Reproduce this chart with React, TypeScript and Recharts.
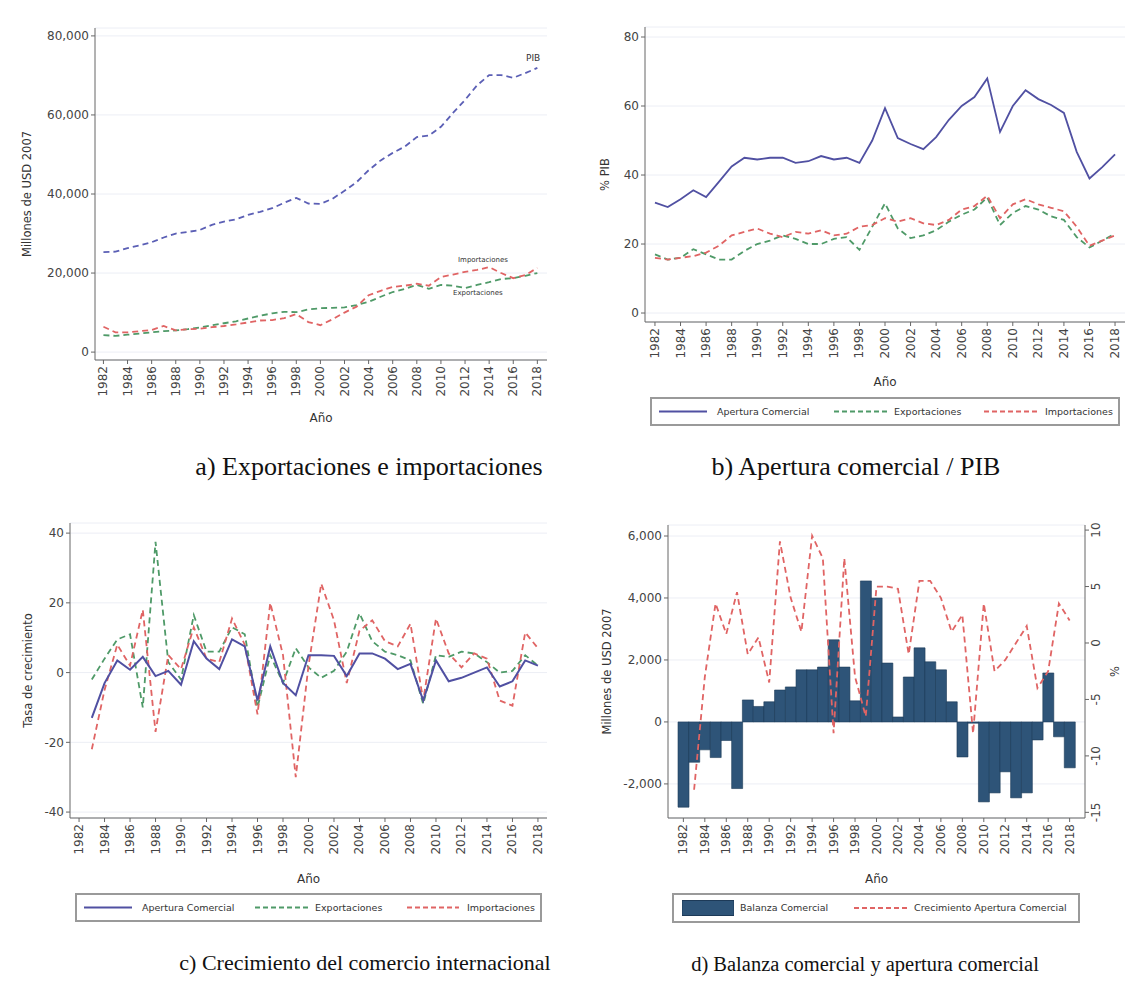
import React from 'react';
import { LineChart, Line, XAxis, YAxis, CartesianGrid, ComposedChart, Bar } from 'recharts';

const years = [1982, 1983, 1984, 1985, 1986, 1987, 1988, 1989, 1990, 1991, 1992, 1993, 1994, 1995, 1996, 1997, 1998, 1999, 2000, 2001, 2002, 2003, 2004, 2005, 2006, 2007, 2008, 2009, 2010, 2011, 2012, 2013, 2014, 2015, 2016, 2017, 2018];
const tickYears = [1982, 1984, 1986, 1988, 1990, 1992, 1994, 1996, 1998, 2000, 2002, 2004, 2006, 2008, 2010, 2012, 2014, 2016, 2018];

// Panel a: millions USD 2007
const pib = [25300, 25400, 26300, 27000, 27800, 29000, 30000, 30400, 30900, 32200, 33000, 33600, 34700, 35500, 36400, 37800, 39000, 37600, 37500, 38800, 40800, 43000, 46000, 48500, 50400, 52000, 54400, 54800, 57000, 60500, 63800, 67500, 70100, 70100, 69400, 70600, 71900];
const exportaciones = [4300, 4100, 4400, 4700, 5000, 5300, 5500, 5800, 6200, 6800, 7300, 7800, 8500, 9200, 9800, 10200, 10100, 10800, 11100, 11200, 11300, 11900, 12700, 14000, 15200, 16000, 17000, 16000, 17000, 16800, 16200, 17000, 17700, 18500, 18700, 19300, 20000];
const importaciones = [6400, 5000, 5000, 5300, 5600, 6600, 5500, 5800, 5900, 6300, 6600, 7000, 7500, 8000, 8100, 8600, 9600, 7600, 6800, 8300, 10000, 11500, 14400, 15500, 16500, 16800, 17300, 16800, 19000, 19600, 20300, 20800, 21500, 20000, 18700, 19500, 21300];

// Panel b: % of GDP
const aperturaPct = [32, 30.7, 33, 35.6, 33.6, 38, 42.5, 45, 44.5, 45, 45, 43.5, 44, 45.5, 44.5, 45, 43.5, 50, 59.4, 50.7, 49, 47.5, 51, 56, 60, 62.6, 68, 52.5, 60, 64.6, 62, 60.3, 58, 46.7, 39, 42.3, 46];
const exportPct = [17, 15.5, 16, 18.5, 17, 15.5, 15.5, 18, 20, 21, 22.5, 21.5, 20, 20, 21.5, 22, 18.3, 25, 31.8, 24.5, 21.7, 22.5, 24, 26.5, 28.5, 30, 33.5, 25.5, 29, 31, 30, 28, 27, 22, 19, 21, 23];
const importPct = [16, 15.5, 16, 16.5, 17.5, 19.5, 22.5, 23.5, 24.5, 23, 22, 23.5, 23, 24, 22.5, 23, 25, 25.5, 27.5, 26.5, 27.5, 26, 25.5, 27, 30, 31, 34, 27.5, 31.5, 33, 31.5, 30.5, 29.5, 25, 19.5, 21, 22.5];

// Panel c: growth rates (%)
const aperturaGrowth = [null, -13, -3, 3.5, 0.8, 4.5, -1, 0.5, -3.5, 9, 4, 1, 9.5, 7.5, -8, 7.5, -3, -6.5, 5, 5, 4.8, -1, 5.5, 5.5, 4, 1, 2.5, -8, 3.5, -2.5, -1.5, 0, 1.5, -4, -2.5, 3.5, 2];
const exportGrowth = [null, -2, 4, 9.5, 11, -10, 37.5, 3, -2, 16.5, 6, 6, 13, 11, -10, 5, -3, 7, 1.5, -1.5, 0.5, 6, 17, 9, 6, 5, 3.5, -9, 5, 4.5, 6, 5.5, 3, 0, 0.5, 5, 2];
const importGrowth = [null, -22, -5, 8, 2, 18, -17, 5, 1, 13, 4, 3, 15.5, 8, -12, 20, 5, -30, 2, 25.5, 15, -3, 12, 15, 9, 7.5, 14, -8, 15.5, 5.5, 1.5, 5.5, 4, -8, -9.5, 11.5, 7];

// Panel d: trade balance (millions USD 2007)
const balanza = [-2750, -1300, -900, -1150, -600, -2150, 710, 500, 650, 1030, 1130, 1680, 1680, 1770, 2650, 1770, 680, 4550, 4000, 1900, 160, 1450, 2390, 1940, 1680, 650, -1130, -40, -2580, -2290, -1610, -2450, -2290, -580, 1580, -480, -1480];

const dataA = years.map((year, i) => ({ year, pib: pib[i], exp: exportaciones[i], imp: importaciones[i] }));
const dataB = years.map((year, i) => ({ year, ap: aperturaPct[i], exp: exportPct[i], imp: importPct[i] }));
const dataC = years.map((year, i) => ({ year, ap: aperturaGrowth[i], exp: exportGrowth[i], imp: importGrowth[i] }));
const dataD = years.map((year, i) => ({ year, bal: balanza[i], gr: aperturaGrowth[i] }));

const FONT = '"DejaVu Sans", Arial, sans-serif';
const SERIF = '"Liberation Serif", "Times New Roman", serif';
const C_PIB = '#5b5fb5';
const C_AP = '#5050a2';
const C_EXP = '#4f9a68';
const C_IMP = '#e06464';
const C_BAR = '#2e5478';
const AXIS = '#666';
const TICK_FILL = '#444';
const DASH = '6 4';

const fmt = (v: number) => v.toLocaleString('en-US');

const RotTick = (props: any) => {
  const { x, y, payload } = props;
  return (
    <g transform={`translate(${x},${y})`}>
      <text transform="rotate(-90)" x={0} y={0} dy={4} textAnchor="end" fontSize={12} fill={TICK_FILL} fontFamily={FONT}>
        {payload.value}
      </text>
    </g>
  );
};

const RightTick = (props: any) => {
  const { x, y, payload } = props;
  return (
    <g transform={`translate(${x},${y})`}>
      <text transform="rotate(-90)" x={0} y={0} dy={9} textAnchor="middle" fontSize={12} fill={TICK_FILL} fontFamily={FONT}>
        {payload.value}
      </text>
    </g>
  );
};

const yTick = { fontSize: 12, fill: TICK_FILL, fontFamily: FONT };
const axisLabel = (value: string, offset: number, angle = -90, position = 'insideLeft') => ({
  value,
  angle,
  position,
  offset,
  fontSize: 11.5,
  fill: '#333',
  fontFamily: FONT,
  style: { textAnchor: 'middle' },
});
const xLabel = { value: 'Año', position: 'insideBottom', offset: 0, fontSize: 12, fill: '#333', fontFamily: FONT };

type Item = { kind: 'solid' | 'dash' | 'box'; color: string; x0: number; x1: number; tx: number; label: string };

const LegendBox = ({ left, top, width, height, items }: { left: number; top: number; width: number; height: number; items: Item[] }) => (
  <div style={{ position: 'absolute', left, top, width, height, border: '2px solid #9a9a9a', boxSizing: 'border-box', background: '#fff' }}>
    {items.map((it, i) => (
      <React.Fragment key={i}>
        <svg style={{ position: 'absolute', left: it.x0 - left, top: 0 }} width={it.x1 - it.x0} height={height - 4}>
          {it.kind === 'box' ? (
            <rect x={0} y={(height - 4) / 2 - 7.5} width={it.x1 - it.x0} height={15} fill={C_BAR} stroke="#1d3a58" strokeWidth={1} />
          ) : (
            <line x1={0} x2={it.x1 - it.x0} y1={(height - 4) / 2} y2={(height - 4) / 2} stroke={it.color} strokeWidth={2} strokeDasharray={it.kind === 'dash' ? '5 3' : undefined} />
          )}
        </svg>
        <div style={{ position: 'absolute', left: it.tx - left, top: 0, height: height - 4, lineHeight: `${height - 4}px`, fontFamily: FONT, fontSize: 9.5, color: '#333', whiteSpace: 'nowrap' }}>
          {it.label}
        </div>
      </React.Fragment>
    ))}
  </div>
);

const Caption = ({ text, cx, baseline, size }: { text: string; cx: number; baseline: number; size: number }) => (
  <div style={{ position: 'absolute', left: cx - 300, width: 600, top: baseline - size * 0.9, textAlign: 'center', fontFamily: SERIF, fontSize: size, lineHeight: `${size}px`, color: '#111', whiteSpace: 'nowrap' }}>
    {text}
  </div>
);

const Note = ({ text, x, y, size }: { text: string; x: number; y: number; size: number }) => (
  <div style={{ position: 'absolute', left: x, top: y - size / 2, fontFamily: FONT, fontSize: size, lineHeight: `${size}px`, color: '#333', whiteSpace: 'nowrap' }}>{text}</div>
);

export default function App() {
  return (
    <div style={{ position: 'absolute', left: 0, top: 0, width: 1135, height: 985, background: '#fff', overflow: 'hidden' }}>
      {/* Panel a */}
      <div style={{ position: 'absolute', left: 0, top: 0 }}>
        <LineChart width={560} height={430} data={dataA} margin={{ top: 28, right: 13, left: 15, bottom: 8 }}>
          <CartesianGrid vertical={false} stroke="#eceef5" />
          <XAxis dataKey="year" type="number" domain={[1981.3, 2018.8]} ticks={tickYears} interval={0} allowDataOverflow tick={RotTick} tickSize={4} height={62} stroke={AXIS} label={xLabel as any} />
          <YAxis type="number" domain={[-2000, 82000]} ticks={[0, 20000, 40000, 60000, 80000]} allowDataOverflow tickFormatter={fmt} width={80} tickSize={4} stroke={AXIS} tick={yTick} label={axisLabel('Millones de USD 2007', 12) as any} />
          <Line dataKey="pib" stroke={C_PIB} strokeWidth={1.8} strokeDasharray={DASH} dot={false} isAnimationActive={false} />
          <Line dataKey="exp" stroke={C_EXP} strokeWidth={1.8} strokeDasharray={DASH} dot={false} isAnimationActive={false} />
          <Line dataKey="imp" stroke={C_IMP} strokeWidth={1.8} strokeDasharray={DASH} dot={false} isAnimationActive={false} />
        </LineChart>
      </div>
      <Note text="PIB" x={526} y={58} size={9} />
      <Note text="Importaciones" x={458} y={260} size={7} />
      <Note text="Exportaciones" x={453} y={293} size={7} />

      {/* Panel b */}
      <div style={{ position: 'absolute', left: 570, top: 0 }}>
        <LineChart width={565} height={400} data={dataB} margin={{ top: 27, right: 10, left: 15, bottom: 14 }}>
          <CartesianGrid vertical={false} stroke="#eceef5" />
          <XAxis dataKey="year" type="number" domain={[1981.22, 2018.78]} ticks={tickYears} interval={0} allowDataOverflow tick={RotTick} tickSize={4} height={64} stroke={AXIS} label={xLabel as any} />
          <YAxis type="number" domain={[-2.6, 82.9]} ticks={[0, 20, 40, 60, 80]} allowDataOverflow width={60} tickSize={4} stroke={AXIS} tick={yTick} label={axisLabel('% PIB', 20) as any} />
          <Line dataKey="ap" stroke={C_AP} strokeWidth={1.8} dot={false} isAnimationActive={false} />
          <Line dataKey="exp" stroke={C_EXP} strokeWidth={1.8} strokeDasharray={DASH} dot={false} isAnimationActive={false} />
          <Line dataKey="imp" stroke={C_IMP} strokeWidth={1.8} strokeDasharray={DASH} dot={false} isAnimationActive={false} />
        </LineChart>
      </div>
      <LegendBox
        left={650}
        top={397}
        width={470}
        height={29}
        items={[
          { kind: 'solid', color: C_AP, x0: 657, x1: 705, tx: 715, label: 'Apertura Comercial' },
          { kind: 'dash', color: C_EXP, x0: 832, x1: 887, tx: 892, label: 'Exportaciones' },
          { kind: 'dash', color: C_IMP, x0: 982, x1: 1037, tx: 1043, label: 'Importaciones' },
        ]}
      />

      {/* Panel c */}
      <div style={{ position: 'absolute', left: 0, top: 470 }}>
        <LineChart width={560} height={420} data={dataC} margin={{ top: 53, right: 13, left: 10, bottom: 7 }}>
          <CartesianGrid vertical={false} stroke="#eceef5" />
          <XAxis dataKey="year" type="number" domain={[1981.29, 2018.71]} ticks={tickYears} interval={0} allowDataOverflow tick={RotTick} tickSize={4} height={65} stroke={AXIS} label={xLabel as any} />
          <YAxis type="number" domain={[-41.7, 42.9]} ticks={[-40, -20, 0, 20, 40]} allowDataOverflow width={60} tickSize={4} stroke={AXIS} tick={yTick} label={axisLabel('Tasa de crecimiento', 18) as any} />
          <Line dataKey="exp" stroke={C_EXP} strokeWidth={1.8} strokeDasharray={DASH} dot={false} isAnimationActive={false} />
          <Line dataKey="imp" stroke={C_IMP} strokeWidth={1.8} strokeDasharray={DASH} dot={false} isAnimationActive={false} />
          <Line dataKey="ap" stroke={C_AP} strokeWidth={2} dot={false} isAnimationActive={false} />
        </LineChart>
      </div>
      <LegendBox
        left={75}
        top={893}
        width={467}
        height={29}
        items={[
          { kind: 'solid', color: C_AP, x0: 82, x1: 130, tx: 140, label: 'Apertura Comercial' },
          { kind: 'dash', color: C_EXP, x0: 253, x1: 308, tx: 313, label: 'Exportaciones' },
          { kind: 'dash', color: C_IMP, x0: 405, x1: 457, tx: 465, label: 'Importaciones' },
        ]}
      />

      {/* Panel d */}
      <div style={{ position: 'absolute', left: 570, top: 470 }}>
        <ComposedChart width={565} height={420} data={dataD} barCategoryGap={0} margin={{ top: 55, right: 10, left: 18, bottom: 7 }}>
          <CartesianGrid vertical={false} stroke="#eceef5" yAxisId="left" />
          <XAxis dataKey="year" padding={{ left: 10, right: 10 }} interval={1} tick={RotTick} tickSize={4} height={65} stroke={AXIS} label={xLabel as any} />
          <YAxis yAxisId="left" type="number" domain={[-3100, 6355]} ticks={[-2000, 0, 2000, 4000, 6000]} allowDataOverflow tickFormatter={fmt} width={80} tickSize={4} stroke={AXIS} tick={yTick} label={axisLabel('Millones de USD 2007', 19) as any} />
          <YAxis yAxisId="right" orientation="right" type="number" domain={[-15.5, 10.45]} ticks={[-15, -10, -5, 0, 5, 10]} allowDataOverflow width={40} tickSize={4} stroke={AXIS} tick={RightTick} label={axisLabel('%', 10, -90, 'insideRight') as any} />
          <Bar yAxisId="left" dataKey="bal" fill={C_BAR} stroke="#1d3a58" strokeWidth={0.6} isAnimationActive={false} />
          <Line yAxisId="right" dataKey="gr" stroke={C_IMP} strokeWidth={1.8} strokeDasharray={DASH} dot={false} isAnimationActive={false} />
        </ComposedChart>
      </div>
      <LegendBox
        left={672}
        top={893}
        width={408}
        height={30}
        items={[
          { kind: 'box', color: C_BAR, x0: 680, x1: 732, tx: 738, label: 'Balanza Comercial' },
          { kind: 'dash', color: C_IMP, x0: 852, x1: 907, tx: 912, label: 'Crecimiento Apertura Comercial' },
        ]}
      />

      <Caption text="a) Exportaciones e importaciones" cx={369} baseline={477} size={26} />
      <Caption text="b) Apertura comercial / PIB" cx={856} baseline={477} size={26} />
      <Caption text="c) Crecimiento del comercio internacional" cx={365} baseline={972} size={22} />
      <Caption text="d) Balanza comercial y apertura comercial" cx={865} baseline={972} size={20.5} />
    </div>
  );
}
